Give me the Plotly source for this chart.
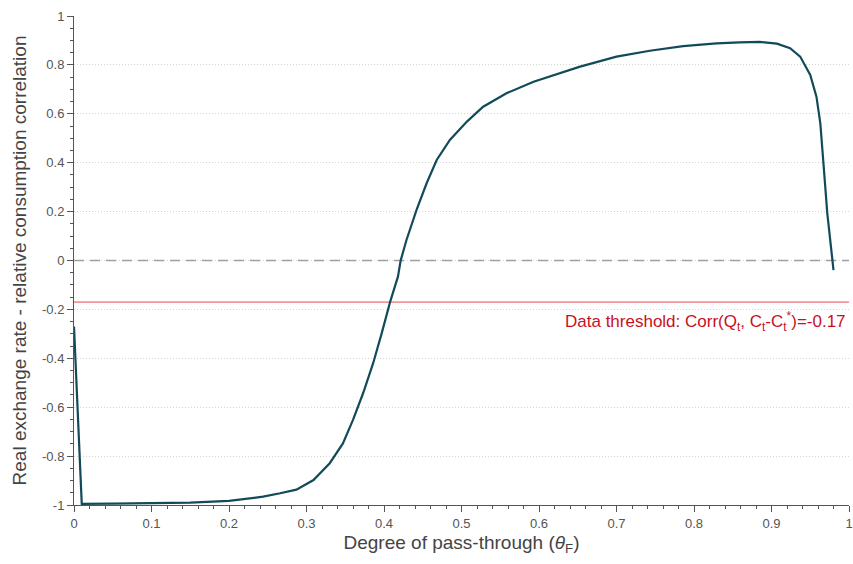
import plotly.graph_objects as go

# Degree of pass-through (theta_F) and correlation values
theta = [0.0, 0.01, 0.05, 0.10, 0.15, 0.20, 0.244, 0.266, 0.287, 0.309, 0.330, 0.347,
         0.360, 0.373, 0.386, 0.397, 0.408, 0.418, 0.4215, 0.429, 0.442, 0.455, 0.468,
         0.485, 0.507, 0.528, 0.558, 0.593, 0.623, 0.653, 0.700, 0.743, 0.786, 0.829,
         0.859, 0.885, 0.907, 0.924, 0.937, 0.950, 0.958, 0.963, 0.967, 0.972, 0.980]
corr = [-0.27, -0.995, -0.994, -0.993, -0.990, -0.983, -0.966, -0.952, -0.937, -0.898, -0.829, -0.748,
        -0.652, -0.543, -0.420, -0.298, -0.168, -0.066, 0.0, 0.084, 0.207, 0.316, 0.411,
        0.493, 0.568, 0.629, 0.684, 0.731, 0.763, 0.793, 0.834, 0.858, 0.877, 0.888,
        0.892, 0.894, 0.887, 0.868, 0.834, 0.759, 0.670, 0.561, 0.398, 0.193, -0.039]

threshold = -0.17
x_ticks = [0, 0.1, 0.2, 0.3, 0.4, 0.5, 0.6, 0.7, 0.8, 0.9, 1]
x_ticktext = ["0", "0.1", "0.2", "0.3", "0.4", "0.5", "0.6", "0.7", "0.8", "0.9", "1"]
y_ticks = [-1, -0.8, -0.6, -0.4, -0.2, 0, 0.2, 0.4, 0.6, 0.8, 1]
y_ticktext = ["-1", "-0.8", "-0.6", "-0.4", "-0.2", "0", "0.2", "0.4", "0.6", "0.8", "1"]

axis_color = "#555555"
font_family = "Liberation Sans, Arial, sans-serif"

fig = go.Figure()

# zero reference (dashed)
fig.add_trace(go.Scatter(x=[0, 1], y=[0, 0], mode="lines",
                         line=dict(color="#a0a0a0", width=1.5, dash="10px,6px"),
                         hoverinfo="skip", showlegend=False))
# data threshold (red)
fig.add_trace(go.Scatter(x=[0, 1], y=[threshold, threshold], mode="lines",
                         line=dict(color="#e24a52", width=1),
                         hoverinfo="skip", showlegend=False))
# main curve
fig.add_trace(go.Scatter(x=theta, y=corr, mode="lines",
                         line=dict(color="#134a5a", width=2.2),
                         showlegend=False))

fig.add_annotation(x=1, y=-0.25, xref="x", yref="y", xanchor="right", yanchor="middle",
                   text="Data threshold: Corr(Q<sub>t</sub>, C<sub>t</sub>-C<sub>t</sub><sup>*</sup>)=-0.17",
                   showarrow=False, xshift=-1,
                   font=dict(color="#c8101e", size=17, family=font_family))

fig.update_layout(
    width=853, height=564,
    margin=dict(l=74, r=4, t=16, b=59),
    paper_bgcolor="white", plot_bgcolor="white",
    font=dict(family=font_family, color=axis_color),
    xaxis=dict(range=[0, 1], tickvals=x_ticks, ticktext=x_ticktext, automargin=False,
               showgrid=False, zeroline=False, showline=True, linecolor=axis_color, linewidth=1,
               ticks="outside", ticklen=6, tickcolor=axis_color, tickfont=dict(size=13, color=axis_color),
               minor=dict(dtick=0.02, tick0=0, ticks="outside", ticklen=3, tickcolor=axis_color),
               title=dict(text="Degree of pass-through (<i>θ</i><sub>F</sub>)",
                          font=dict(size=19, color="#444444"), standoff=6)),
    yaxis=dict(range=[-1, 1], tickvals=y_ticks, ticktext=y_ticktext, automargin=False,
               showgrid=True, gridcolor="#d4d4d4", griddash="1px,2px", gridwidth=1,
               zeroline=False, showline=True, linecolor=axis_color, linewidth=1,
               ticks="outside", ticklen=6, tickcolor=axis_color, tickfont=dict(size=13, color=axis_color),
               minor=dict(dtick=0.05, tick0=0, ticks="outside", ticklen=3, tickcolor=axis_color, showgrid=False),
               title=dict(text="Real exchange rate - relative consumption correlation",
                          font=dict(size=19, color="#444444"), standoff=10)),
)

fig.write_html("out.html", config={"displayModeBar": False},
               post_script="document.body.style.margin='0';document.body.style.overflow='hidden';")
